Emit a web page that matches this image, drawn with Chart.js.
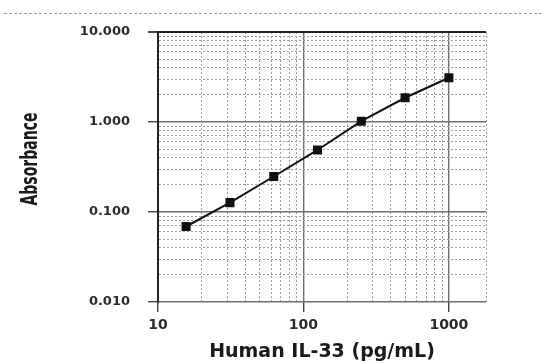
<!DOCTYPE html>
<html>
<head>
<meta charset="utf-8">
<script src="https://cdn.jsdelivr.net/npm/chart.js@4.4.1/dist/chart.umd.min.js"></script>
<style>
  html, body { margin: 0; padding: 0; background: #fff; }
  #wrap { position: relative; width: 542px; height: 363px; overflow: hidden; }
  #rule { position: absolute; left: 4px; right: 0; top: 13px; border-top: 1px dashed #9a9a9a; }
  canvas { display: block; }
</style>
</head>
<body>
<div id="wrap">
  <div id="rule"></div>
  <canvas id="curve" width="542" height="363"></canvas>
</div>
<script>
// standard curve: concentration (pg/mL) vs absorbance
const concentrations = [15.6, 31.25, 62.5, 125, 250, 500, 1000];
const absorbance = [0.069, 0.127, 0.248, 0.489, 1.02, 1.86, 3.1];

const xTickLabels = ['10', '100', '1000'];                 // decades 10^1 .. 10^3
const yTickLabels = ['0.010', '0.100', '1.000', '10.000']; // decades 10^-2 .. 10^1

const xRange = [10, 1800];
const yRange = [0.01, 10];

// 1..9 x 10^n ticks inside [min, max], plus the max itself
function logTicks(min, max) {
    const out = [];
    for (let e = Math.floor(Math.log10(min)); e <= Math.ceil(Math.log10(max)); e++) {
        for (let m = 1; m <= 9; m++) {
            const v = parseFloat((m * Math.pow(10, e)).toPrecision(4));
            if (v >= min - 1e-12 && v <= max + 1e-9) out.push(v);
        }
    }
    if (out[out.length - 1] < max) out.push(max);
    return out.map((v) => ({ value: v }));
}

const isDecade = (v) => Math.abs(Math.log10(v) - Math.round(Math.log10(v))) < 1e-6;
const tickOf = (ctx) => (ctx.tick ? ctx.tick.value : undefined);

function gridStyle(darkEdge) {
    return {
        color: (ctx) => {
            const v = tickOf(ctx);
            if (v === undefined) return '#999';
            if (darkEdge !== null && Math.abs(v - darkEdge) < 1e-9) return '#222';
            return isDecade(v) ? '#6f6f6f' : '#9c9c9c';
        },
        lineWidth: (ctx) => {
            const v = tickOf(ctx);
            if (darkEdge !== null && Math.abs(v - darkEdge) < 1e-9) return 2;
            return v !== undefined && isDecade(v) ? 1.4 : 1;
        },
        tickColor: (ctx) => {
            const v = tickOf(ctx);
            return v !== undefined && isDecade(v) ? '#444' : 'rgba(0,0,0,0)';
        },
        tickLength: 10,
        drawTicks: true
    };
}

const gridDash = (ctx) => {
    const v = tickOf(ctx);
    return v !== undefined && isDecade(v) ? [] : [2, 2];
};

// y title is drawn narrow, the way it sits in the original layout
const yTitle = {
    text: 'Absorbance',
    font: "bold 23px 'DejaVu Sans', sans-serif",
    length: 93
};
const narrowTitle = {
    id: 'narrowTitle',
    afterDraw(chart) {
        const ctx = chart.ctx;
        const area = chart.chartArea;
        ctx.save();
        ctx.font = yTitle.font;
        const w = ctx.measureText(yTitle.text).width;
        ctx.translate(31, (area.top + area.bottom) / 2 - 8);
        ctx.rotate(-Math.PI / 2);
        ctx.scale(yTitle.length / w, 1);
        ctx.fillStyle = '#1a1a1a';
        ctx.textAlign = 'center';
        ctx.textBaseline = 'middle';
        ctx.fillText(yTitle.text, 0, 0);
        ctx.restore();
    }
};

const chart = new Chart(document.getElementById('curve').getContext('2d'), {
    type: 'line',
    data: {
        datasets: [{
            data: concentrations.map((c, i) => ({ x: c, y: absorbance[i] })),
            borderColor: '#111',
            backgroundColor: '#111',
            borderWidth: 2,
            pointStyle: 'rect',
            pointRadius: 5,
            pointHoverRadius: 5,
            tension: 0
        }]
    },
    plugins: [narrowTitle],
    options: {
        responsive: false,
        animation: false,
        devicePixelRatio: 1,
        layout: { padding: { left: 16, top: 32, right: 56, bottom: 0 } },
        plugins: { legend: { display: false }, tooltip: { enabled: false } },
        scales: {
            x: {
                type: 'logarithmic',
                min: xRange[0],
                max: xRange[1],
                afterBuildTicks: (scale) => { scale.ticks = logTicks(xRange[0], xRange[1]); },
                afterFit: (scale) => { scale.height = 61; },
                grid: gridStyle(null),
                border: { display: false, dash: gridDash },
                ticks: {
                    autoSkip: false,
                    maxRotation: 0,
                    padding: 5,
                    color: '#2b2b2b',
                    font: { family: "'DejaVu Sans', Verdana, sans-serif", size: 14, weight: 'bold' },
                    callback: (v) => isDecade(v) ? xTickLabels[Math.round(Math.log10(v)) - 1] : ''
                },
                title: {
                    display: true,
                    text: 'Human IL-33 (pg/mL)',
                    color: '#1a1a1a',
                    font: { family: "'DejaVu Sans', Verdana, sans-serif", size: 19, weight: 'bold' },
                    padding: { top: 5, bottom: 0 }
                }
            },
            y: {
                type: 'logarithmic',
                min: yRange[0],
                max: yRange[1],
                afterBuildTicks: (scale) => { scale.ticks = logTicks(yRange[0], yRange[1]); },
                afterFit: (scale) => { scale.width = 158 - 16; },
                grid: gridStyle(yRange[1]),
                border: { display: true, color: '#222', width: 2, dash: gridDash },
                ticks: {
                    autoSkip: false,
                    padding: 18,
                    color: '#2b2b2b',
                    font: { family: "'DejaVu Sans', Verdana, sans-serif", size: 13, weight: 'bold' },
                    callback: (v) => isDecade(v) ? yTickLabels[Math.round(Math.log10(v)) + 2] : ''
                },
                title: { display: false }
            }
        }
    }
});
</script>
</body>
</html>
